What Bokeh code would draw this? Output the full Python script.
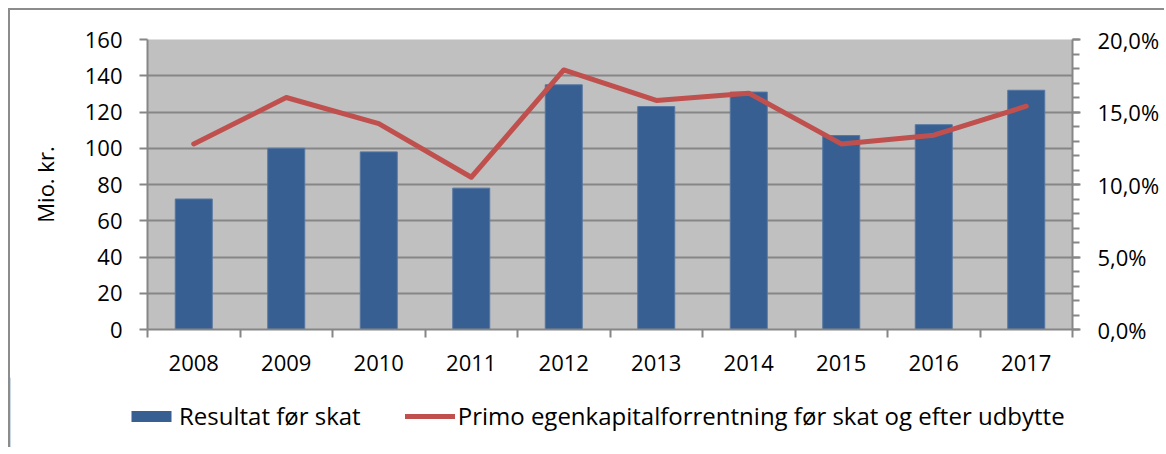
from bokeh.plotting import figure
from bokeh.models import (Range1d, LinearAxis, FixedTicker, Legend, LegendItem,
                          ColumnDataSource)
from bokeh.embed import file_html
from bokeh.resources import INLINE

years = ["2008", "2009", "2010", "2011", "2012", "2013", "2014", "2015", "2016", "2017"]
resultat = [72, 100, 98, 78, 135, 123, 131, 107, 113, 132]
roe_pct = [12.8, 16.0, 14.2, 10.5, 17.9, 15.8, 16.3, 12.8, 13.4, 15.4]
left_ticks = [0, 20, 40, 60, 80, 100, 120, 140, 160]
right_ticks = [0, 5, 10, 15, 20]
right_labels = ["0,0%", "5,0%", "10,0%", "15,0%", "20,0%"]
y_title = "Mio. kr."
bar_label = "Resultat før skat"
line_label = "Primo egenkapitalforrentning før skat og efter udbytte"

FONT = "Open Sans"
FS = "22px"
LEG_FS = "24px"
GRAY = "#868686"
BAR_C = "#375F92"
LINE_C = "#C0504D"
BORDER = "2px solid #8c8c8c"

xs = [i + 0.5 for i in range(len(years))]
src = ColumnDataSource(dict(x=xs, res=resultat, roe=roe_pct))

p = figure(width=1156, height=369, output_backend="svg", toolbar_location=None,
           x_range=Range1d(0, len(years)), y_range=Range1d(0, 160),
           min_border_left=137, min_border_top=29, min_border_right=94, min_border_bottom=50,
           x_axis_location=None, y_axis_location=None)
p.extra_y_ranges = {"pct": Range1d(0, 20)}
p.background_fill_color = "#C0C0C0"
p.border_fill_color = "white"
p.outline_line_color = None
p.styles = {"margin-left": "8px", "margin-top": "8px",
            "border-left": BORDER, "border-top": BORDER}

# bottom axis: labels at centres, ticks at category boundaries (minor)
xaxis = LinearAxis(ticker=FixedTicker(ticks=xs, minor_ticks=list(range(len(years) + 1))))
xaxis.major_label_overrides = {x: y for x, y in zip(xs, years)}
xaxis.major_tick_out = 0
xaxis.major_tick_in = 0
xaxis.minor_tick_out = 8
xaxis.minor_tick_in = 0
xaxis.minor_tick_line_color = GRAY
xaxis.minor_tick_line_width = 2
xaxis.axis_line_color = GRAY
xaxis.axis_line_width = 2
xaxis.major_label_text_font = FONT
xaxis.major_label_text_font_size = FS
xaxis.major_label_text_color = "black"
xaxis.major_label_standoff = 17
p.add_layout(xaxis, "below")

yaxis = LinearAxis(ticker=FixedTicker(ticks=left_ticks, minor_ticks=[]), axis_label=y_title)
yaxis.major_tick_out = 8
yaxis.major_tick_in = 0
yaxis.minor_tick_out = 0
yaxis.major_tick_line_color = GRAY
yaxis.major_tick_line_width = 2
yaxis.axis_line_color = GRAY
yaxis.axis_line_width = 2
yaxis.major_label_text_font = FONT
yaxis.major_label_text_font_size = FS
yaxis.major_label_text_color = "black"
yaxis.major_label_standoff = 17
yaxis.axis_label_text_font = FONT
yaxis.axis_label_text_font_size = FS
yaxis.axis_label_text_font_style = "normal"
yaxis.axis_label_text_color = "black"
yaxis.axis_label_standoff = 22
p.add_layout(yaxis, "left")

raxis = LinearAxis(y_range_name="pct",
                   ticker=FixedTicker(ticks=right_ticks, minor_ticks=list(range(0, 21))))
raxis.major_label_overrides = {t: l for t, l in zip(right_ticks, right_labels)}
raxis.major_tick_out = 8
raxis.major_tick_in = 0
raxis.minor_tick_out = 7
raxis.minor_tick_in = 0
raxis.major_tick_line_color = GRAY
raxis.minor_tick_line_color = GRAY
raxis.major_tick_line_width = 2
raxis.minor_tick_line_width = 2
raxis.axis_line_color = GRAY
raxis.axis_line_width = 2
raxis.major_label_text_font = FONT
raxis.major_label_text_font_size = FS
raxis.major_label_text_color = "black"
raxis.major_label_standoff = 17
p.add_layout(raxis, "right")

p.xgrid.visible = False
p.ygrid.ticker = FixedTicker(ticks=left_ticks)
p.ygrid.grid_line_color = GRAY
p.ygrid.grid_line_width = 2

p.vbar(x="x", top="res", width=0.4, bottom=0, source=src,
       fill_color=BAR_C, line_color="#5577A3", line_width=1)
p.line(x="x", y="roe", source=src, y_range_name="pct",
       line_color=LINE_C, line_width=5, line_cap="round", line_join="round")

# legend strip below the chart (legend proxies lie outside its visible range)
leg = figure(width=1156, height=70, output_backend="svg", toolbar_location=None,
             x_range=Range1d(0, 1), y_range=Range1d(0, 1),
             min_border=0, x_axis_location=None, y_axis_location=None)
leg.outline_line_color = None
leg.xgrid.visible = False
leg.ygrid.visible = False
leg.background_fill_color = "white"
leg.styles = {"margin-left": "8px", "border-left": BORDER}
r_bar = leg.vbar(x=[-10], top=[1], width=0.1, fill_color=BAR_C, line_color=None)
r_line = leg.line(x=[-10, -9], y=[0, 0], line_color=LINE_C, line_width=5, line_cap="round")
legend = Legend(items=[LegendItem(label=bar_label, renderers=[r_bar]),
                       LegendItem(label=line_label, renderers=[r_line])],
                orientation="horizontal", location=(116, 15),
                border_line_color=None, background_fill_alpha=0,
                label_text_font=FONT, label_text_font_size=LEG_FS, label_text_color="black",
                glyph_width=50, glyph_height=14, spacing=44, label_standoff=3,
                margin=0, padding=0)
leg.add_layout(legend, "center")

open("out.html", "w").write(file_html([p, leg], INLINE))
